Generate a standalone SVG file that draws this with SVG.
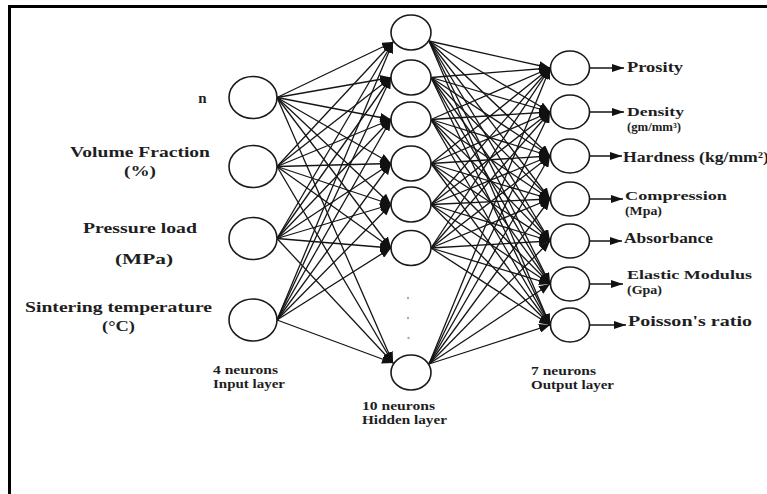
<svg xmlns="http://www.w3.org/2000/svg" width="767" height="494" viewBox="0 0 767 494">
<style>
.nd{fill:#fff;stroke:#1a1a1a;stroke-width:1.6}
.c line{stroke:#151515;stroke-width:1.3;marker-end:url(#ah)}
.oa line{stroke:#151515;stroke-width:1.5;marker-end:url(#ao)}
.t{font-family:"Liberation Serif","Times New Roman",serif;font-weight:bold;fill:#1e1e1e}
.l15{font-size:15px}
.l14{font-size:14px}
.l13{font-size:13px}
.l12{font-size:12px}
.dot{fill:#aaa}
</style>
<defs>
<marker id="ah" markerUnits="userSpaceOnUse" markerWidth="12" markerHeight="9" refX="11" refY="4.5" orient="auto"><path d="M0,0 L11,4.5 L0,9 Z" fill="#111"/></marker>
<marker id="ao" markerUnits="userSpaceOnUse" markerWidth="13" markerHeight="9" refX="12" refY="4" orient="auto"><path d="M0,0 L12,4 L0,8 Z" fill="#111"/></marker>
</defs>
<rect width="767" height="494" fill="#fff"/>
<g id="frame" stroke="#000" stroke-width="3">
<line x1="8" y1="6.5" x2="767" y2="6.5"/>
<line x1="9.5" y1="5" x2="9.5" y2="494"/>
</g>
<g id="connectors" class="c">
<line x1="277" y1="97.5" x2="393" y2="42"/><line x1="277" y1="97.5" x2="391" y2="77.5"/><line x1="277" y1="97.5" x2="391" y2="119.5"/><line x1="277" y1="97.5" x2="391" y2="163.5"/><line x1="277" y1="97.5" x2="391" y2="204.5"/><line x1="277" y1="97.5" x2="391" y2="248"/><line x1="277" y1="97.5" x2="393" y2="363"/>
<line x1="277" y1="166.5" x2="393" y2="42"/><line x1="277" y1="166.5" x2="391" y2="77.5"/><line x1="277" y1="166.5" x2="391" y2="119.5"/><line x1="277" y1="166.5" x2="391" y2="163.5"/><line x1="277" y1="166.5" x2="391" y2="204.5"/><line x1="277" y1="166.5" x2="391" y2="248"/><line x1="277" y1="166.5" x2="393" y2="363"/>
<line x1="277" y1="238.5" x2="393" y2="42"/><line x1="277" y1="238.5" x2="391" y2="77.5"/><line x1="277" y1="238.5" x2="391" y2="119.5"/><line x1="277" y1="238.5" x2="391" y2="163.5"/><line x1="277" y1="238.5" x2="391" y2="204.5"/><line x1="277" y1="238.5" x2="391" y2="248"/><line x1="277" y1="238.5" x2="393" y2="363"/>
<line x1="277" y1="320" x2="393" y2="42"/><line x1="277" y1="320" x2="391" y2="77.5"/><line x1="277" y1="320" x2="391" y2="119.5"/><line x1="277" y1="320" x2="391" y2="163.5"/><line x1="277" y1="320" x2="391" y2="204.5"/><line x1="277" y1="320" x2="391" y2="248"/><line x1="277" y1="320" x2="393" y2="363"/>
<line x1="429" y1="41" x2="550" y2="68"/><line x1="429" y1="41" x2="550" y2="112"/><line x1="429" y1="41" x2="550" y2="156"/><line x1="429" y1="41" x2="550" y2="199"/><line x1="429" y1="41" x2="550" y2="241"/><line x1="429" y1="41" x2="550" y2="284"/><line x1="429" y1="41" x2="550" y2="325"/>
<line x1="431" y1="77.5" x2="550" y2="68"/><line x1="431" y1="77.5" x2="550" y2="112"/><line x1="431" y1="77.5" x2="550" y2="156"/><line x1="431" y1="77.5" x2="550" y2="199"/><line x1="431" y1="77.5" x2="550" y2="241"/><line x1="431" y1="77.5" x2="550" y2="284"/><line x1="431" y1="77.5" x2="550" y2="325"/>
<line x1="431" y1="119.5" x2="550" y2="68"/><line x1="431" y1="119.5" x2="550" y2="112"/><line x1="431" y1="119.5" x2="550" y2="156"/><line x1="431" y1="119.5" x2="550" y2="199"/><line x1="431" y1="119.5" x2="550" y2="241"/><line x1="431" y1="119.5" x2="550" y2="284"/><line x1="431" y1="119.5" x2="550" y2="325"/>
<line x1="431" y1="163.5" x2="550" y2="68"/><line x1="431" y1="163.5" x2="550" y2="112"/><line x1="431" y1="163.5" x2="550" y2="156"/><line x1="431" y1="163.5" x2="550" y2="199"/><line x1="431" y1="163.5" x2="550" y2="241"/><line x1="431" y1="163.5" x2="550" y2="284"/><line x1="431" y1="163.5" x2="550" y2="325"/>
<line x1="431" y1="204.5" x2="550" y2="68"/><line x1="431" y1="204.5" x2="550" y2="112"/><line x1="431" y1="204.5" x2="550" y2="156"/><line x1="431" y1="204.5" x2="550" y2="199"/><line x1="431" y1="204.5" x2="550" y2="241"/><line x1="431" y1="204.5" x2="550" y2="284"/><line x1="431" y1="204.5" x2="550" y2="325"/>
<line x1="431" y1="248" x2="550" y2="68"/><line x1="431" y1="248" x2="550" y2="112"/><line x1="431" y1="248" x2="550" y2="156"/><line x1="431" y1="248" x2="550" y2="199"/><line x1="431" y1="248" x2="550" y2="241"/><line x1="431" y1="248" x2="550" y2="284"/><line x1="431" y1="248" x2="550" y2="325"/>
<line x1="429" y1="364" x2="550" y2="68"/><line x1="429" y1="364" x2="550" y2="112"/><line x1="429" y1="364" x2="550" y2="156"/><line x1="429" y1="364" x2="550" y2="199"/><line x1="429" y1="364" x2="550" y2="241"/><line x1="429" y1="364" x2="550" y2="284"/><line x1="429" y1="364" x2="550" y2="325"/>
</g>
<g id="output-arrows" class="oa">
<line x1="589.5" y1="68" x2="624" y2="68"/><line x1="589.5" y1="112" x2="624" y2="112"/><line x1="589.5" y1="156" x2="622" y2="156"/><line x1="589.5" y1="199" x2="623" y2="199"/><line x1="589.5" y1="241" x2="622" y2="241"/><line x1="589.5" y1="284" x2="623" y2="284"/><line x1="589.5" y1="325" x2="626" y2="325"/>
</g>
<g id="in1"><ellipse class="nd" cx="253" cy="97.5" rx="24" ry="21"/><text class="t l15" x="202.5" y="103" text-anchor="middle">n</text></g>
<g id="in2"><ellipse class="nd" cx="253" cy="166.5" rx="24" ry="21"/><text class="t l15" x="70" y="157" textLength="140" lengthAdjust="spacingAndGlyphs">Volume Fraction</text><text class="t l15" x="124" y="176" textLength="32" lengthAdjust="spacingAndGlyphs">(%)</text></g>
<g id="in3"><ellipse class="nd" cx="253" cy="238.5" rx="24" ry="21"/><text class="t l15" x="83" y="233" textLength="114" lengthAdjust="spacingAndGlyphs">Pressure load</text><text class="t l15" x="115" y="264" textLength="58" lengthAdjust="spacingAndGlyphs">(MPa)</text></g>
<g id="in4"><ellipse class="nd" cx="253" cy="320" rx="24" ry="21"/><text class="t l15" x="25" y="312" textLength="187" lengthAdjust="spacingAndGlyphs">Sintering temperature</text><text class="t l15" x="102" y="331" textLength="33" lengthAdjust="spacingAndGlyphs">(°C)</text></g>
<g id="h1"><ellipse class="nd" cx="411" cy="32.5" rx="20" ry="17.5"/></g>
<g id="h2"><ellipse class="nd" cx="411" cy="77.5" rx="20" ry="17.5"/></g>
<g id="h3"><ellipse class="nd" cx="411" cy="119.5" rx="20" ry="17.5"/></g>
<g id="h4"><ellipse class="nd" cx="411" cy="163.5" rx="20" ry="17.5"/></g>
<g id="h5"><ellipse class="nd" cx="411" cy="204.5" rx="20" ry="17.5"/></g>
<g id="h6"><ellipse class="nd" cx="411" cy="248" rx="20" ry="17.5"/></g>
<g id="h10"><ellipse class="nd" cx="411" cy="372.5" rx="20" ry="17.5"/></g>
<g id="ellipsis"><circle class="dot" cx="408" cy="298" r="1.2"/><circle class="dot" cx="408" cy="318" r="1.2"/><circle class="dot" cx="408.5" cy="338" r="1.2"/></g>
<g id="o1"><ellipse class="nd" cx="570" cy="68" rx="19.5" ry="17"/><text class="t l14" x="627" y="72" textLength="56" lengthAdjust="spacingAndGlyphs">Prosity</text></g>
<g id="o2"><ellipse class="nd" cx="570" cy="112" rx="19.5" ry="17"/><text class="t l13" x="627" y="116" textLength="57" lengthAdjust="spacingAndGlyphs">Density</text><text class="t l13" x="627" y="131" textLength="54" lengthAdjust="spacingAndGlyphs">(gm/mm³)</text></g>
<g id="o3"><ellipse class="nd" cx="570" cy="156" rx="19.5" ry="17"/><text class="t l14" x="623" y="162" textLength="146" lengthAdjust="spacingAndGlyphs">Hardness (kg/mm²)</text></g>
<g id="o4"><ellipse class="nd" cx="570" cy="199" rx="19.5" ry="17"/><text class="t l13" x="625" y="200" textLength="102" lengthAdjust="spacingAndGlyphs">Compression</text><text class="t l13" x="625" y="215" textLength="37" lengthAdjust="spacingAndGlyphs">(Mpa)</text></g>
<g id="o5"><ellipse class="nd" cx="570" cy="241" rx="19.5" ry="17"/><text class="t l14" x="624" y="243" textLength="89" lengthAdjust="spacingAndGlyphs">Absorbance</text></g>
<g id="o6"><ellipse class="nd" cx="570" cy="284" rx="19.5" ry="17"/><text class="t l13" x="627" y="279" textLength="125" lengthAdjust="spacingAndGlyphs">Elastic Modulus</text><text class="t l13" x="627" y="294" textLength="35" lengthAdjust="spacingAndGlyphs">(Gpa)</text></g>
<g id="o7"><ellipse class="nd" cx="570" cy="325" rx="19.5" ry="17"/><text class="t l14" x="628" y="326" textLength="124" lengthAdjust="spacingAndGlyphs">Poisson's ratio</text></g>
<g id="layer-labels">
<text class="t l12" x="213" y="374" textLength="65" lengthAdjust="spacingAndGlyphs">4 neurons</text>
<text class="t l12" x="213" y="388" textLength="72" lengthAdjust="spacingAndGlyphs">Input layer</text>
<text class="t l12" x="362" y="410" textLength="73" lengthAdjust="spacingAndGlyphs">10 neurons</text>
<text class="t l12" x="362" y="424" textLength="85" lengthAdjust="spacingAndGlyphs">Hidden layer</text>
<text class="t l12" x="531" y="375" textLength="65" lengthAdjust="spacingAndGlyphs">7 neurons</text>
<text class="t l12" x="531" y="389" textLength="83" lengthAdjust="spacingAndGlyphs">Output layer</text>
</g>
</svg>
